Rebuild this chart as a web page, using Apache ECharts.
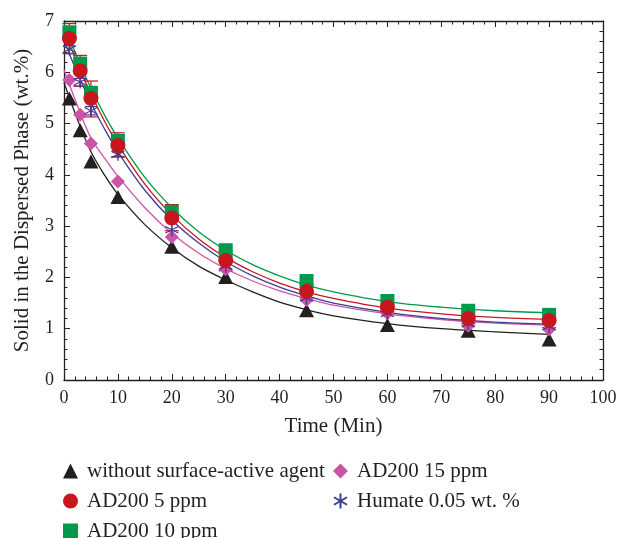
<!DOCTYPE html>
<html><head><meta charset="utf-8">
<script src="https://cdn.jsdelivr.net/npm/echarts@6/dist/echarts.min.js"></script>
<style>html,body{margin:0;padding:0;background:#fff}#c{width:622px;height:538px}</style>
</head><body><div id="c"></div>
<script>
// measured points
const times = [1, 3, 5, 10, 20, 30, 45, 60, 75, 90];
const noAgent = [5.49, 4.87, 4.26, 3.57, 2.60, 2.01, 1.36, 1.07, 0.96, 0.79];
const ad5 = [6.66, 6.03, 5.49, 4.57, 3.16, 2.33, 1.73, 1.42, 1.20, 1.16];
const ad10 = [6.78, 6.17, 5.60, 4.66, 3.28, 2.53, 1.93, 1.54, 1.35, 1.27];
const ad15 = [5.85, 5.17, 4.61, 3.87, 2.79, 2.16, 1.56, 1.30, 1.06, 0.99];
const humate = [6.45, 5.81, 5.25, 4.40, 2.93, 2.22, 1.60, 1.30, 1.10, 1.04];
// error bars
const ad5Low = [6.37, 5.73, 5.13, 4.35, 2.91, 2.13, 1.60, 1.33, 1.10, 1.02];
const ad5High = [6.95, 6.33, 5.83, 4.82, 3.42, 2.52, 1.86, 1.55, 1.33, 1.31];
const humateLow = [6.36, 5.73, 5.17, 4.35, null, null, null, null, null, null];
const humateHigh = [6.52, 5.88, 5.33, 4.45, null, null, null, null, null, null];
// fitted curves
const fitTimes = [0, 2.5, 5, 7.5, 10, 15, 20, 25, 30, 35, 40, 45, 50, 60, 70, 80, 90];
const fitNoAgent = [5.80, 5.08, 4.45, 4.00, 3.62, 3.03, 2.58, 2.22, 1.95, 1.72, 1.52, 1.37, 1.25, 1.10, 1.00, 0.94, 0.89];
const fitAd5 = [6.85, 6.17, 5.58, 5.05, 4.59, 3.82, 3.22, 2.75, 2.39, 2.11, 1.89, 1.72, 1.59, 1.40, 1.29, 1.22, 1.18];
const fitAd10 = [6.95, 6.28, 5.69, 5.17, 4.72, 3.95, 3.36, 2.89, 2.53, 2.25, 2.03, 1.85, 1.72, 1.53, 1.42, 1.35, 1.31];
const fitAd15 = [6.05, 5.35, 4.72, 4.33, 3.97, 3.36, 2.86, 2.47, 2.17, 1.93, 1.74, 1.59, 1.46, 1.29, 1.18, 1.11, 1.07];
const fitHumate = [6.62, 5.98, 5.40, 4.90, 4.45, 3.70, 3.12, 2.67, 2.31, 2.03, 1.81, 1.64, 1.50, 1.32, 1.20, 1.13, 1.09];
const xTicks = [0, 10, 20, 30, 40, 50, 60, 70, 80, 90, 100];
const yTicks = [0, 1, 2, 3, 4, 5, 6, 7];

const names = ['without surface-active agent', 'AD200 5 ppm', 'AD200 10 ppm', 'AD200 15 ppm', 'Humate 0.05 wt. %'];
const C = {k: '#231f20', r: '#c8161e', g: '#009a4a', p: '#cc53a6', b: '#3b3d98'};
const FONT = 'Liberation Serif';
const TXT = 21;
const asterisk = 'path://M0,-10L0,10M-8.66,-5L8.66,5M-8.66,5L8.66,-5';

const pts = arr => times.map((t, i) => [t, arr[i]]);
const fit = arr => fitTimes.map((t, i) => [t, arr[i]]);
const errs = (lo, hi) => times.map((t, i) => [t, lo[i], hi[i]]);

function errSeries(lo, hi, color, capW) {
  return {
    type: 'custom', silent: true, z: 3,
    data: errs(lo, hi),
    renderItem: function (params, api) {
      if (api.value(1) == null || isNaN(api.value(1))) return;
      const a = api.coord([api.value(0), api.value(1)]);
      const b = api.coord([api.value(0), api.value(2)]);
      const st = {stroke: color, lineWidth: 1.2};
      return {type: 'group', children: [
        {type: 'line', shape: {x1: a[0], y1: a[1], x2: b[0], y2: b[1]}, style: st},
        {type: 'line', shape: {x1: a[0] - capW, y1: a[1], x2: a[0] + capW, y2: a[1]}, style: st},
        {type: 'line', shape: {x1: b[0] - capW, y1: b[1], x2: b[0] + capW, y2: b[1]}, style: st}
      ]};
    }
  };
}
function fitSeries(arr, color) {
  return {type: 'line', data: fit(arr), smooth: 0.35, showSymbol: false, silent: true, z: 2,
    lineStyle: {color: color, width: 1.3}, itemStyle: {color: color}};
}
function axisCommon() {
  return {
    axisLine: {onZero: false, lineStyle: {color: '#231f20', width: 1.3}},
    axisTick: {show: true, inside: true, length: 6, lineStyle: {color: '#231f20', width: 1}},
    minorTick: {show: true, splitNumber: 5, length: 3.5, lineStyle: {color: '#231f20', width: 1}},
    splitLine: {show: false}, minorSplitLine: {show: false}
  };
}
function legendAt(name, left, top) {
  return {data: [name], left: left, top: top, itemWidth: 15, itemHeight: 15, itemGap: 10,
    textStyle: {fontFamily: FONT, fontSize: TXT, color: '#231f20', lineHeight: 22, padding: [0, 0, 0, 4]}};
}

const chart = echarts.init(document.getElementById('c'));
chart.setOption({
  animation: false,
  backgroundColor: '#fff',
  grid: {left: 64, right: 19, top: 21, bottom: 158},
  xAxis: [
    Object.assign({type: 'value', min: 0, max: 100, interval: 10, position: 'bottom',
      name: 'Time (Min)', nameLocation: 'middle', nameGap: 36,
      nameTextStyle: {fontFamily: FONT, fontSize: TXT, color: '#231f20'},
      axisLabel: {fontFamily: FONT, fontSize: 18, color: '#231f20', margin: 9,
        formatter: v => xTicks.includes(v) ? String(v) : ''}}, axisCommon()),
    Object.assign({type: 'value', min: 0, max: 100, interval: 10, position: 'top',
      axisLabel: {show: false}}, axisCommon())
  ],
  yAxis: [
    Object.assign({type: 'value', min: 0, max: 7, interval: 1, position: 'left',
      name: 'Solid in the Dispersed Phase (wt.%)', nameLocation: 'middle', nameGap: 31,
      nameTextStyle: {fontFamily: FONT, fontSize: TXT, color: '#231f20'},
      axisLabel: {fontFamily: FONT, fontSize: 18, color: '#231f20', margin: 10,
        formatter: v => yTicks.includes(v) ? String(v) : ''}}, axisCommon()),
    Object.assign({type: 'value', min: 0, max: 7, interval: 1, position: 'right',
      axisLabel: {show: false}}, axisCommon())
  ],
  legend: [
    legendAt(names[0], 58, 455),
    legendAt(names[1], 58, 485),
    legendAt(names[2], 58, 515),
    legendAt(names[3], 328, 455),
    legendAt(names[4], 328, 485)
  ],
  series: [
    fitSeries(fitNoAgent, C.k),
    fitSeries(fitAd15, C.p),
    fitSeries(fitHumate, C.b),
    fitSeries(fitAd5, C.r),
    fitSeries(fitAd10, C.g),
    {name: names[0], type: 'scatter', data: pts(noAgent), symbol: 'triangle', symbolSize: [15, 14], z: 4,
      itemStyle: {color: C.k, opacity: 1}},
    {name: names[3], type: 'scatter', data: pts(ad15), symbol: 'diamond', symbolSize: [14, 14], z: 4,
      itemStyle: {color: C.p, opacity: 1}},
    errSeries(humateLow, humateHigh, C.b, 6),
    {name: names[4], type: 'scatter', data: pts(humate), symbol: asterisk, symbolSize: 13, z: 4,
      itemStyle: {color: 'rgba(0,0,0,0)', borderColor: C.b, borderWidth: 1.3, opacity: 1}},
    {name: names[2], type: 'scatter', data: pts(ad10), symbol: 'rect', symbolSize: 14, z: 4,
      itemStyle: {color: C.g, opacity: 1}},
    errSeries(ad5Low, ad5High, C.r, 7),
    {name: names[1], type: 'scatter', data: pts(ad5), symbol: 'circle', symbolSize: 15, z: 4,
      itemStyle: {color: C.r, opacity: 1}}
  ]
});
</script></body></html>
